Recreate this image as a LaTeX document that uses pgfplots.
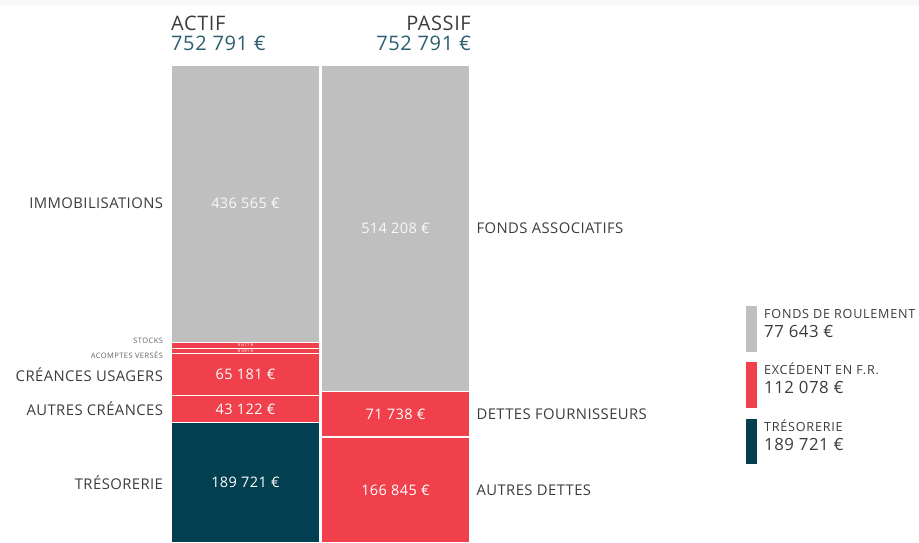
\documentclass[border=0pt]{standalone}
\usepackage{fontspec}
\setmainfont{Open Sans}[LetterSpace=3]
\usepackage{pgfplots}
\pgfplotsset{compat=1.18}
\definecolor{cgray}{RGB}{191,191,191}
\definecolor{cred}{RGB}{240,64,76}
\definecolor{cdark}{RGB}{2,63,80}
\definecolor{ctxt}{RGB}{60,60,60}
\definecolor{cteal}{RGB}{44,94,110}
\definecolor{ctop}{RGB}{247,248,250}
\pgfplotsset{colax/.style={
  hide axis, scale only axis, width=300pt, height=478pt,
  xmin=-0.5, xmax=1.5, ymin=0, ymax=752791, y dir=reverse,
  ybar stacked, bar width=148.5pt,
  at={(170.5pt,478pt)}, anchor=north west,
  every axis plot/.append style={draw=white, line width=1.3pt},
  clip=false}}
\tikzset{val/.style={text=white, font=\fontsize{14.5}{16}\selectfont},
  sval/.style={text=white, font=\fontsize{4.5}{5}\selectfont},
  lab/.style={text=ctxt, font=\fontsize{14.8}{16}\selectfont},
  tiny/.style={text=ctxt!80, font=\fontsize{7.5}{8}\selectfont\addfontfeatures{LetterSpace=6}}}
\begin{document}
\begin{tikzpicture}
\useasboundingbox (0,0) rectangle (919pt,543pt);
\fill[ctop] (0,538pt) rectangle (919pt,543pt);
% ACTIF
\begin{axis}[colax]
\addplot[fill=cgray] coordinates {(0,436565)};
\addplot[fill=cred] coordinates {(0,9611)};
\addplot[fill=cred] coordinates {(0,8591)};
\addplot[fill=cred] coordinates {(0,65181)};
\addplot[fill=cred] coordinates {(0,43122)};
\addplot[fill=cdark] coordinates {(0,189721)};
\coordinate (a1) at (axis cs:0,218282.5);
\coordinate (a2) at (axis cs:0,441370.5);
\coordinate (a3) at (axis cs:0,450471.5);
\coordinate (a4) at (axis cs:0,487357.5);
\coordinate (a5) at (axis cs:0,541509);
\coordinate (a6) at (axis cs:0,657930.5);
\node[lab, anchor=east] at ([xshift=-4pt]axis cs:-0.5,218282.5) {IMMOBILISATIONS};
\node[tiny, anchor=east] at ([xshift=-4pt,yshift=4.5pt]axis cs:-0.5,441370.5) {STOCKS};
\node[tiny, anchor=east] at ([xshift=-4pt,yshift=-4.5pt]axis cs:-0.5,450471.5) {ACOMPTES VERSÉS};
\node[lab, anchor=east] at ([xshift=-4pt]axis cs:-0.5,487357.5) {CRÉANCES USAGERS};
\node[lab, anchor=east] at ([xshift=-4pt]axis cs:-0.5,541509) {AUTRES CRÉANCES};
\node[lab, anchor=east] at ([xshift=-4pt]axis cs:-0.5,657930.5) {TRÉSORERIE};
\end{axis}
% PASSIF
\begin{axis}[colax]
\addplot[fill=cgray] coordinates {(1,514208)};
\addplot[fill=cred] coordinates {(1,71738)};
\addplot[fill=cred] coordinates {(1,166845)};
\coordinate (p1) at (axis cs:1,257104);
\coordinate (p2) at (axis cs:1,550077);
\coordinate (p3) at (axis cs:1,669368.5);
\node[lab, anchor=west] at ([xshift=2.5pt]axis cs:1.5,257104) {FONDS ASSOCIATIFS};
\node[lab, anchor=west] at ([xshift=2.5pt]axis cs:1.5,550077) {DETTES FOURNISSEURS};
\node[lab, anchor=west] at ([xshift=2.5pt]axis cs:1.5,669368.5) {AUTRES DETTES};
\end{axis}
% values inside the bars
\node[val, text=white!95!gray] at (a1) {436 565 €};
\node[sval] at (a2) {9 611 €};
\node[sval] at (a3) {8 591 €};
\node[val] at (a4) {65 181 €};
\node[val] at (a5) {43 122 €};
\node[val] at (a6) {189 721 €};
\node[val, text=white!95!gray] at (p1) {514 208 €};
\node[val] at (p2) {71 738 €};
\node[val] at (p3) {166 845 €};
% headers
\node[anchor=base west, inner sep=0, text=ctxt, font=\fontsize{20}{22}\selectfont] at (171pt,512pt) {ACTIF};
\node[anchor=base west, inner sep=0, text=cteal, font=\fontsize{20}{22}\selectfont] at (171pt,492pt) {752 791 €};
\node[anchor=base east, inner sep=0, text=ctxt, font=\fontsize{20}{22}\selectfont] at (471pt,512pt) {PASSIF};
\node[anchor=base east, inner sep=0, text=cteal, font=\fontsize{20}{22}\selectfont] at (471pt,492pt) {752 791 €};
% legend
\fill[cgray] (746pt,191pt) rectangle (757pt,237pt);
\fill[cred] (746pt,135pt) rectangle (757pt,181pt);
\fill[cdark] (746pt,79pt) rectangle (757pt,124pt);
\foreach \yt/\ttl/\v in {237/FONDS DE ROULEMENT/77 643 €, 181/EXCÉDENT EN F.R./112 078 €, 124/TRÉSORERIE/189 721 €}{
  \node[anchor=base west, inner sep=0, text=ctxt, font=\fontsize{12.6}{14}\selectfont\addfontfeatures{LetterSpace=6}] at (764pt,\yt pt-13pt) {\ttl};
  \node[anchor=base west, inner sep=0, text=ctxt, font=\fontsize{16.8}{19}\selectfont] at (764pt,\yt pt-32pt) {\v};
}
\end{tikzpicture}
\end{document}
